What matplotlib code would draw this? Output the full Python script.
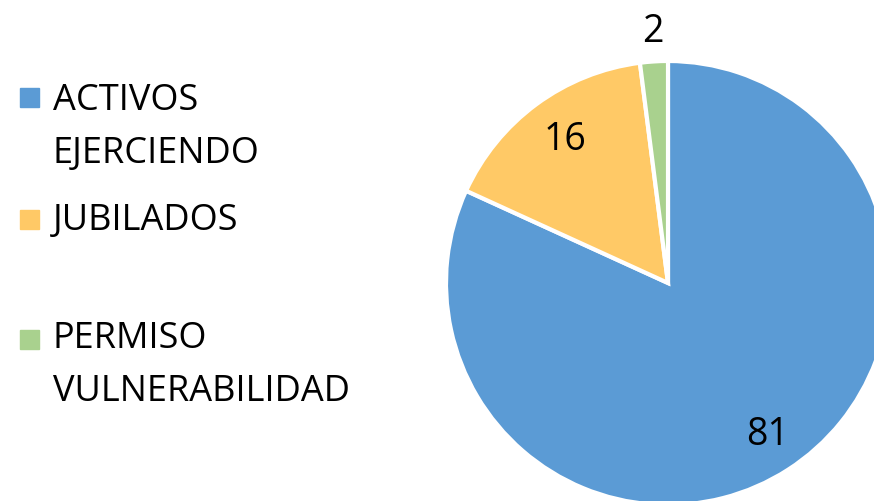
import matplotlib.pyplot as plt
from matplotlib.patches import Rectangle

labels = ['ACTIVOS\nEJERCIENDO', 'JUBILADOS', 'PERMISO\nVULNERABILIDAD']
values = [81, 16, 2]
colors = ['#5B9BD5', '#FFC966', '#A9D18E']

W, H = 874, 501
fig = plt.figure(figsize=(W / 100, H / 100), dpi=100)
ax = fig.add_axes([0, 0, 1, 1])

font = 'Open Sans'

#pie, partly cut off at right and bottom like the original
wedges, _ = ax.pie(values, colors=colors, startangle=90, counterclock=False,
                   center=(668, H - 283), radius=222,
                   wedgeprops={'edgecolor': 'white', 'linewidth': 3})

#pie() changes the limits, so pin them to pixel space afterwards
ax.set_xlim(0, W)
ax.set_ylim(0, H)
ax.set_aspect('equal')
ax.set_axis_off()

#value labels (x centre, baseline)
label_pos = [(768, H - 445), (565, H - 150), (653, H - 42)]
for v, (x, y) in zip(values, label_pos):
    ax.text(x, y, str(v), fontsize=27, family=font, ha='center', va='baseline')

#legend drawn by hand (Excel spaces entries unevenly)
square_y = [97, 219, 339]
first_baseline = [110, 230, 348]
line_gap = 53
for lab, c, sy, ty in zip(labels, colors, square_y, first_baseline):
    ax.add_patch(Rectangle((20, H - sy - 9.5), 19, 19, color=c))
    for k, line in enumerate(lab.split('\n')):
        ax.text(53, H - ty - k * line_gap, line, fontsize=26, family=font,
                ha='left', va='baseline')

fig.savefig('out.png', dpi=100)
